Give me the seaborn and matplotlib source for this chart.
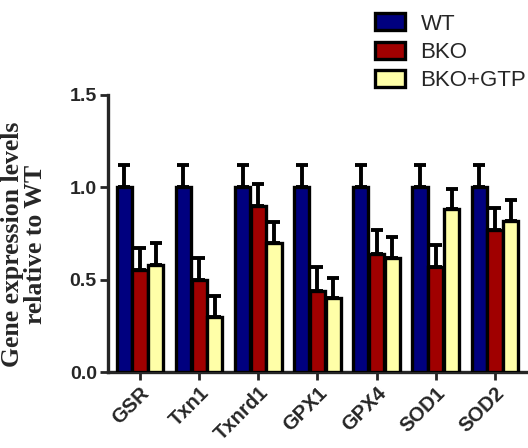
import pandas as pd
import numpy as np
import seaborn as sns
import matplotlib.pyplot as plt

# 基因与分组
genes = ['GSR', 'Txn1', 'Txnrd1', 'GPX1', 'GPX4', 'SOD1', 'SOD2']
groups = ['WT', 'BKO', 'BKO+GTP']

# 各组均值
wt_mean = [1.0, 1.0, 1.0, 1.0, 1.0, 1.0, 1.0]
bko_mean = [0.55, 0.50, 0.90, 0.44, 0.64, 0.57, 0.77]
gtp_mean = [0.58, 0.30, 0.70, 0.40, 0.62, 0.88, 0.82]

# 误差 (只画上半部分)
wt_err = [0.12, 0.12, 0.12, 0.12, 0.12, 0.12, 0.12]
bko_err = [0.12, 0.12, 0.12, 0.13, 0.13, 0.12, 0.12]
gtp_err = [0.12, 0.11, 0.11, 0.11, 0.11, 0.11, 0.11]

colors = ['#00007F', '#A00000', '#FFFFA8']

df = pd.DataFrame({
    'gene': genes * 3,
    'group': [g for g in groups for _ in genes],
    'value': wt_mean + bko_mean + gtp_mean,
    'err': wt_err + bko_err + gtp_err,
})

sns.set_style('ticks')
plt.rcParams['font.family'] = ['Liberation Sans', 'DejaVu Sans']

fig = plt.figure(figsize=(5.28, 4.48), dpi=100)
ax = fig.add_axes([0.2045, 0.1696, 0.7935, 0.6184])

sns.barplot(data=df, x='gene', y='value', hue='group', order=genes,
            hue_order=groups, palette=colors, saturation=1, errorbar=None,
            width=0.8, gap=0.04, edgecolor='black', linewidth=2.4, ax=ax, zorder=3)

# 误差线 - 按柱子的位置加上去
for bars, grp in zip(ax.containers, groups):
    sub = df[df['group'] == grp].set_index('gene').loc[genes]
    xs = [b.get_x() + b.get_width() / 2 for b in bars]
    ax.errorbar(xs, sub['value'].values,
                yerr=[np.zeros(len(xs)), sub['err'].values],
                fmt='none', ecolor='black', elinewidth=2.8, capsize=4.5,
                capthick=2.8, zorder=2)

ax.set_ylim(0, 1.5)
ax.set_xlim(-0.54, 6.54)
ax.set_yticks([0.0, 0.5, 1.0, 1.5])
ax.set_yticklabels(['0.0', '0.5', '1.0', '1.5'], fontsize=14, fontweight='bold')
ax.set_xticks(range(len(genes)))
ax.set_xticklabels(genes, rotation=45, ha='right', rotation_mode='anchor',
                   fontsize=14.5, fontweight='bold')
ax.tick_params(axis='both', width=2, length=6, pad=2)
ax.set_xlabel('')
ax.set_ylabel('Gene expression levels\nrelative to WT', fontsize=18.5,
              fontweight='bold', family='Liberation Serif', linespacing=1.0)
ax.yaxis.set_label_coords(-0.145, 0.46)
sns.despine(ax=ax)
for s in ['left', 'bottom']:
    ax.spines[s].set_linewidth(2.4)

leg = ax.legend(loc='upper left', bbox_to_anchor=(0.693, 0.99), bbox_transform=fig.transFigure,
                frameon=False, fontsize=16, handlelength=1.36, handleheight=0.8,
                labelspacing=0.32, handletextpad=0.7, borderaxespad=0)
for h in leg.legend_handles:
    h.set_edgecolor('black')
    h.set_linewidth(2.4)

fig.savefig('out.png', dpi=100)
